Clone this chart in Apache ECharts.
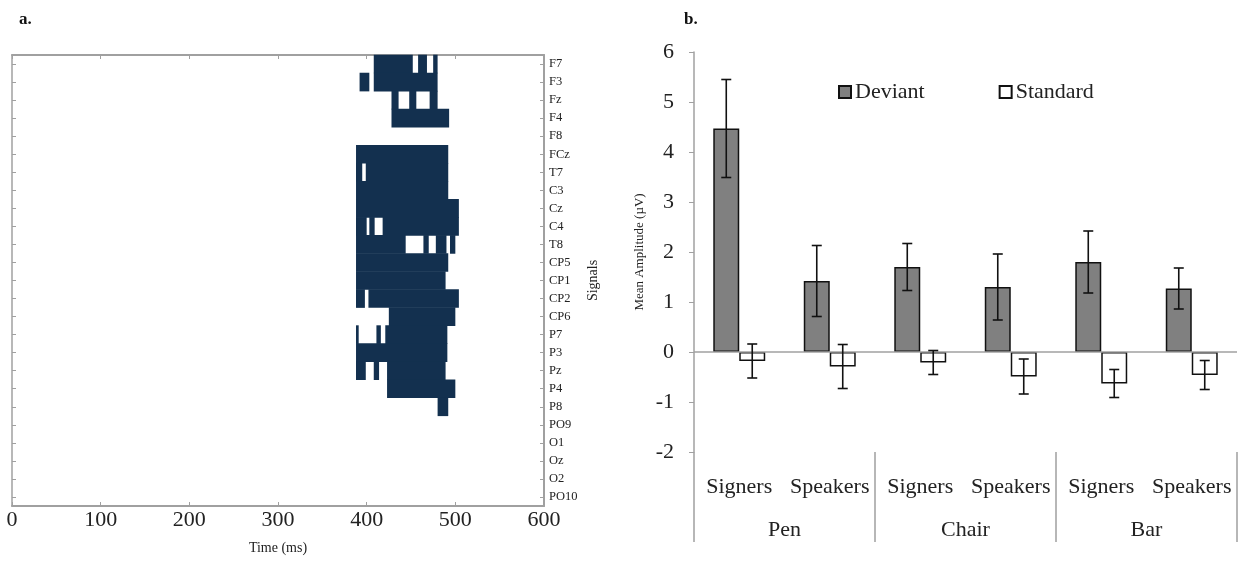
<!DOCTYPE html>
<html><head><meta charset="utf-8">
<script src="https://cdn.jsdelivr.net/npm/echarts@6/dist/echarts.min.js"></script>
<style>html,body{margin:0;padding:0;background:#fff}#c{width:1249px;height:561px}</style>
</head><body><div id="c"></div>
<script>
// ---------- Panel a data ----------
const signals = ['F7','F3','Fz','F4','F8','FCz','T7','C3','Cz','C4','T8','CP5','CP1','CP2','CP6','P7','P3','Pz','P4','P8','PO9','O1','Oz','O2','PO10'];
const timeMin = 0, timeMax = 600, timeStep = 100;
// significant windows: [signal, start ms, end ms]
const significantWindows = [
  ['F7',408,452],['F7',458,468],['F7',475,480],
  ['F3',392,403],['F3',408,480],
  ['Fz',428,436],['Fz',448,456],['Fz',471,480],
  ['F4',428,493],
  ['FCz',388,492],
  ['T7',388,395],['T7',399,492],
  ['C3',388,492],
  ['Cz',388,504],
  ['C4',388,400],['C4',403,409],['C4',418,504],
  ['T8',388,444],['T8',464,470],['T8',478,490],['T8',494,500],
  ['CP5',388,492],
  ['CP1',388,489],
  ['CP2',388,398],['CP2',402,504],
  ['CP6',425,500],
  ['P7',388,391],['P7',411,416],['P7',421,491],
  ['P3',388,491],
  ['Pz',388,399],['Pz',408,414],['Pz',423,489],
  ['P4',423,500],
  ['P8',480,492]
];

// ---------- Panel b data ----------
const words = ['Pen','Chair','Bar'];
const groups = ['Signers','Speakers'];
const deviantMean   = [4.47, 1.42, 1.70, 1.30, 1.80, 1.27];
const deviantErr    = [0.98, 0.71, 0.47, 0.66, 0.62, 0.41];
const standardMean  = [-0.18, -0.29, -0.21, -0.49, -0.63, -0.46];
const standardErr   = [0.34, 0.44, 0.24, 0.35, 0.28, 0.29];
const ampMin = -2, ampMax = 6, ampStep = 1;

const catKeys = [];
words.forEach(w => groups.forEach(g => catKeys.push(w + '|' + g)));

const FONT = 'Liberation Serif';
const AXIS_GRAY = '#a0a0a0';
const BAR_FRAC = 0.287;

const rasterData = significantWindows.map(d => [d[1], d[2], signals.indexOf(d[0])]);

function errRender(side) {
  return function (params, api) {
    const idx = api.value(0), m = api.value(1), e = api.value(2);
    const band = api.size([1, 0])[0];
    const off = side * band * BAR_FRAC / 2;
    const t = api.coord([idx, m + e]);
    const b = api.coord([idx, m - e]);
    const x = t[0] + off;
    const cap = 5;
    const st = { stroke: '#111', lineWidth: 1.6 };
    return { type: 'group', children: [
      { type: 'line', shape: { x1: x, y1: t[1], x2: x, y2: b[1] }, style: st },
      { type: 'line', shape: { x1: x - cap, y1: t[1], x2: x + cap, y2: t[1] }, style: st },
      { type: 'line', shape: { x1: x - cap, y1: b[1], x2: x + cap, y2: b[1] }, style: st }
    ]};
  };
}

const chart = echarts.init(document.getElementById('c'));
chart.setOption({
  animation: false,
  backgroundColor: '#fff',
  textStyle: { fontFamily: FONT },
  title: [
    { text: 'a.', left: 14, top: 6, textStyle: { fontFamily: FONT, fontSize: 17, fontWeight: 'bold', color: '#111' } },
    { text: 'b.', left: 679, top: 6, textStyle: { fontFamily: FONT, fontSize: 17, fontWeight: 'bold', color: '#111' } }
  ],
  legend: {
    data: ['Deviant', 'Standard'],
    left: 833, top: 76,
    icon: 'rect', itemWidth: 12, itemHeight: 12, itemGap: 74,
    textStyle: { fontFamily: FONT, fontSize: 22, color: '#222', padding: [0, 0, 0, -1] }
  },
  grid: [
    { left: 12, top: 55, width: 532, height: 451, outerBoundsMode: 'none', containLabel: false },
    { left: 694, top: 52, width: 543, height: 400, outerBoundsMode: 'none', containLabel: false }
  ],
  xAxis: [
    { type: 'value', gridIndex: 0, min: timeMin, max: timeMax, interval: timeStep, position: 'bottom',
      name: 'Time (ms)', nameLocation: 'middle', nameGap: 35,
      nameTextStyle: { fontFamily: FONT, fontSize: 14, color: '#222' },
      axisLine: { show: true, lineStyle: { color: AXIS_GRAY, width: 2 } },
      axisTick: { show: true, inside: true, length: 4, lineStyle: { color: AXIS_GRAY } },
      axisLabel: { fontFamily: FONT, fontSize: 22, color: '#222', margin: 3 },
      splitLine: { show: false } },
    { type: 'value', gridIndex: 0, min: timeMin, max: timeMax, interval: timeStep, position: 'top',
      axisLine: { show: true, lineStyle: { color: AXIS_GRAY, width: 2 } },
      axisTick: { show: true, inside: true, length: 4, lineStyle: { color: AXIS_GRAY } },
      axisLabel: { show: false }, splitLine: { show: false } },
    { type: 'category', gridIndex: 1, data: catKeys, position: 'bottom',
      axisLine: { show: false, onZero: false }, axisTick: { show: false },
      axisLabel: { fontFamily: FONT, fontSize: 22, color: '#222', margin: 24, interval: 0,
        formatter: v => v.split('|')[1] } },
    { type: 'category', gridIndex: 1, data: words, position: 'bottom',
      axisLine: { show: false, onZero: false },
      axisTick: { show: true, length: 90, lineStyle: { color: AXIS_GRAY, width: 1.5 } },
      axisLabel: { fontFamily: FONT, fontSize: 22, color: '#222', margin: 67, interval: 0 } }
  ],
  yAxis: [
    { type: 'category', gridIndex: 0, data: signals, inverse: true, position: 'right',
      name: 'Signals', nameLocation: 'middle', nameGap: 42, nameRotate: 90,
      nameTextStyle: { fontFamily: FONT, fontSize: 14, color: '#222' },
      axisLine: { show: true, lineStyle: { color: AXIS_GRAY, width: 1.5 } },
      axisTick: { show: true, inside: false, alignWithLabel: true, length: 4, lineStyle: { color: AXIS_GRAY } },
      axisLabel: { fontFamily: FONT, fontSize: 12.5, color: '#222', margin: 5, interval: 0 } },
    { type: 'category', gridIndex: 0, data: signals, inverse: true, position: 'right', offset: -532,
      axisLine: { show: true, lineStyle: { color: AXIS_GRAY, width: 2 } },
      axisTick: { show: true, inside: true, alignWithLabel: true, length: 4, interval: 0, lineStyle: { color: AXIS_GRAY } },
      axisLabel: { show: false } },
    { type: 'value', gridIndex: 1, min: ampMin, max: ampMax, interval: ampStep,
      name: 'Mean Amplitude (µV)', nameLocation: 'middle', nameGap: 48, nameRotate: 90,
      nameTextStyle: { fontFamily: FONT, fontSize: 13, color: '#222' },
      axisLine: { show: true, lineStyle: { color: AXIS_GRAY, width: 1.5 } },
      axisTick: { show: true, length: 5, lineStyle: { color: AXIS_GRAY } },
      axisLabel: { fontFamily: FONT, fontSize: 22, color: '#222', margin: 20 },
      splitLine: { show: false } }
  ],
  series: [
    { type: 'custom', name: 'raster', xAxisIndex: 0, yAxisIndex: 0,
      encode: { x: [0, 1], y: 2 }, data: rasterData,
      renderItem: function (params, api) {
        const s = api.coord([api.value(0), api.value(2)]);
        const e = api.coord([api.value(1), api.value(2)]);
        const h = api.size([0, 1])[1];
        return { type: 'rect', shape: { x: s[0], y: s[1] - h / 2 - 0.3, width: e[0] - s[0], height: h + 0.6 },
          style: { fill: '#13304f' } };
      } },
    { type: 'bar', name: 'Deviant', xAxisIndex: 2, yAxisIndex: 2, data: deviantMean,
      barWidth: (BAR_FRAC * 100) + '%', barGap: '0%',
      itemStyle: { color: '#808080', borderColor: '#111', borderWidth: 1.5 },
      markLine: { silent: true, symbol: 'none', label: { show: false },
        lineStyle: { color: AXIS_GRAY, width: 1.5, type: 'solid' }, data: [{ yAxis: 0 }] } },
    { type: 'bar', name: 'Standard', xAxisIndex: 2, yAxisIndex: 2, data: standardMean,
      barWidth: (BAR_FRAC * 100) + '%', barGap: '0%',
      itemStyle: { color: '#ffffff', borderColor: '#111', borderWidth: 1.5 } },
    { type: 'custom', name: 'devErr', xAxisIndex: 2, yAxisIndex: 2, z: 5,
      encode: { x: 0, y: 1 },
      data: deviantMean.map((m, i) => [i, m, deviantErr[i]]), renderItem: errRender(-1) },
    { type: 'custom', name: 'stdErr', xAxisIndex: 2, yAxisIndex: 2, z: 5,
      encode: { x: 0, y: 1 },
      data: standardMean.map((m, i) => [i, m, standardErr[i]]), renderItem: errRender(1) }
  ]
});
</script>
</body></html>
